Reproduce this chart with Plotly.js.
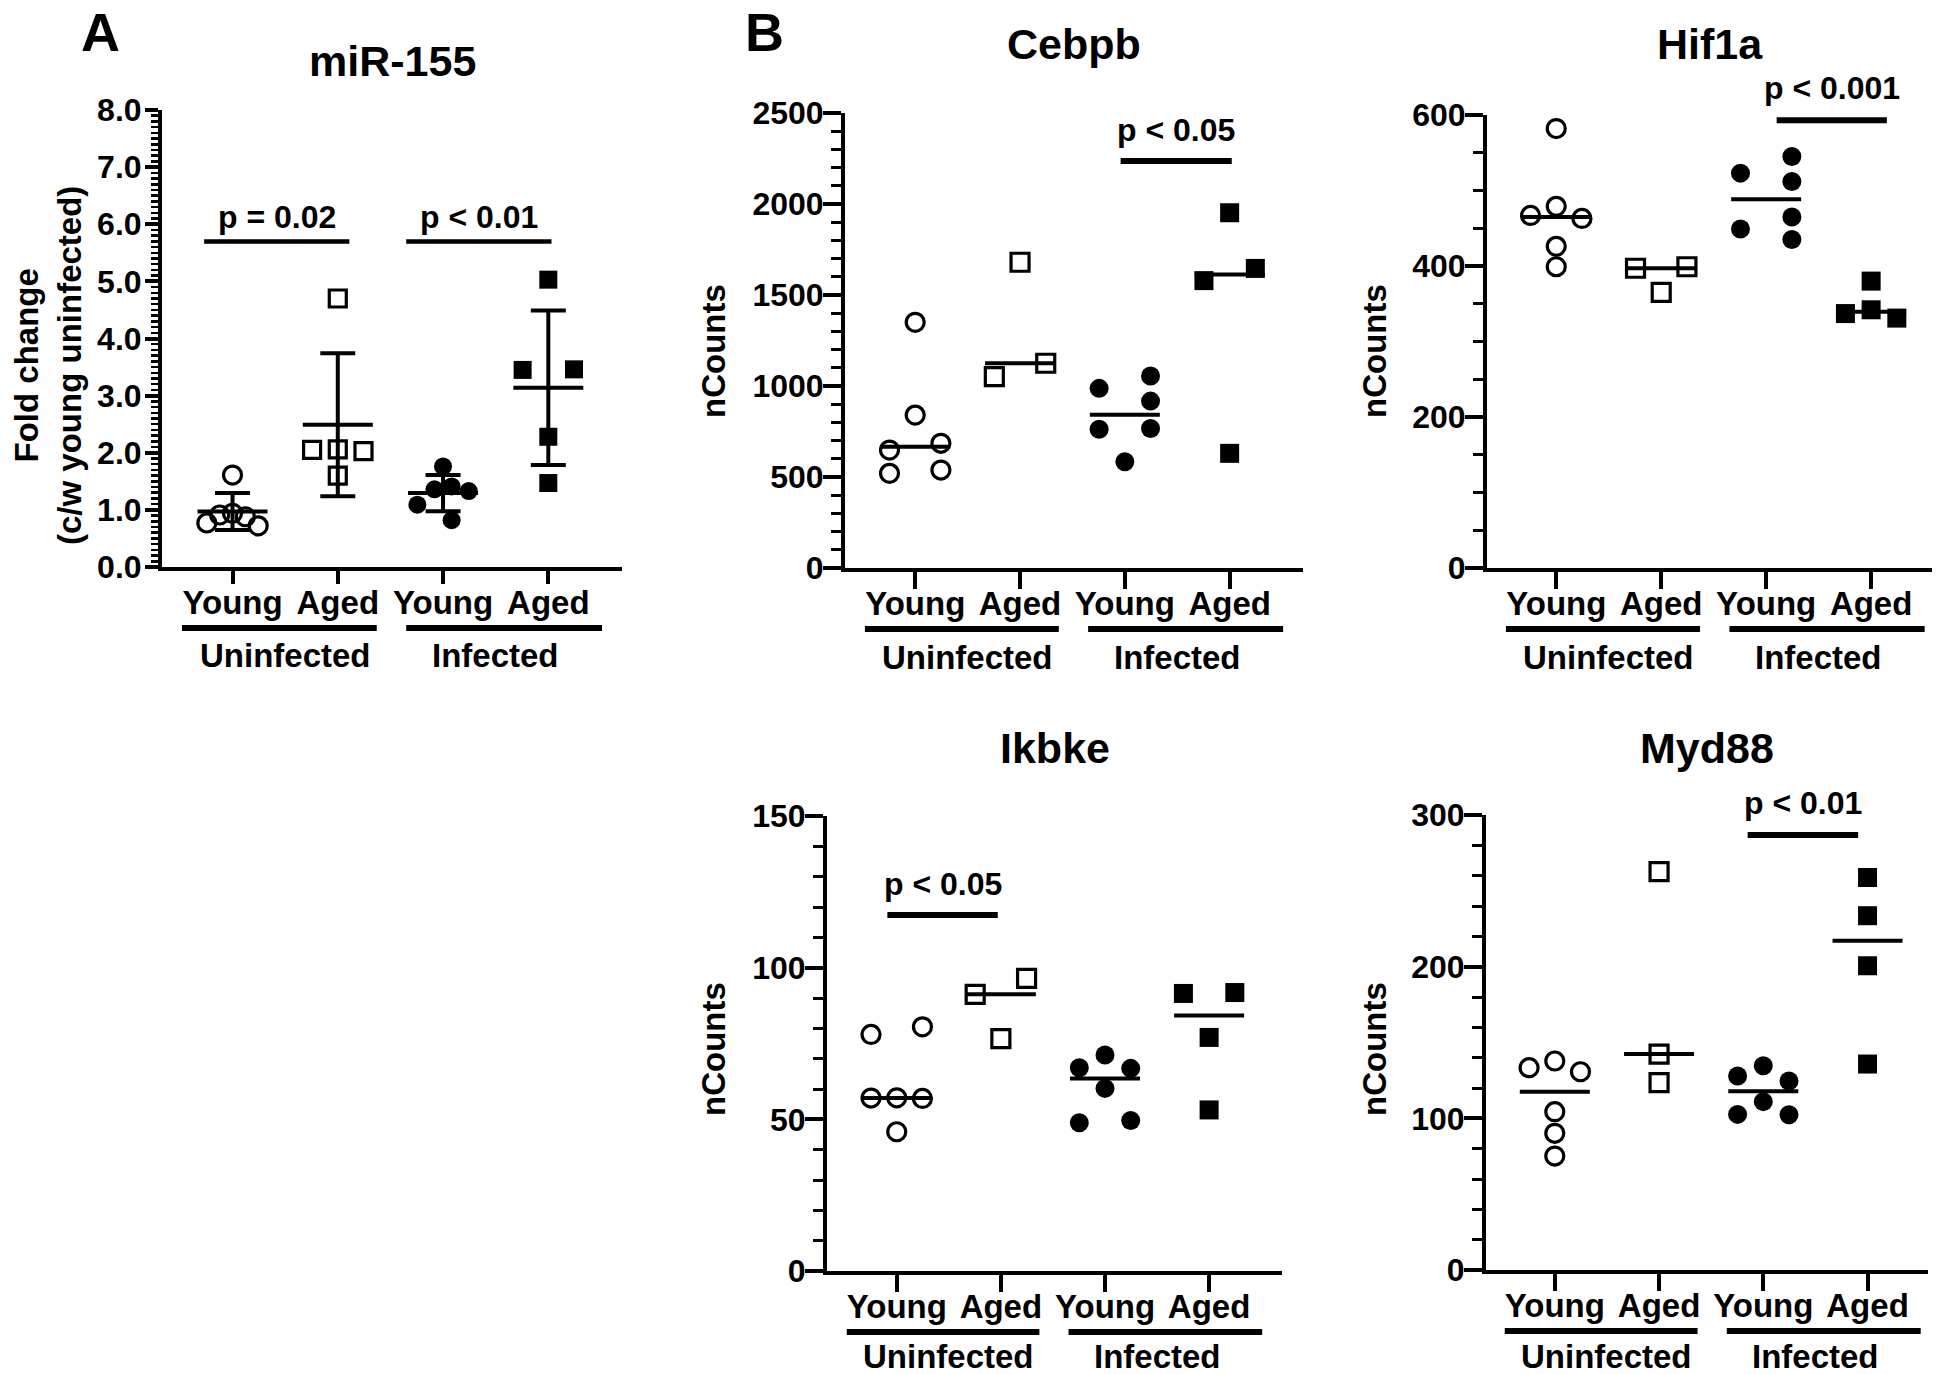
<!DOCTYPE html>
<html>
<head>
<meta charset="utf-8">
<script src="https://cdn.plot.ly/plotly-3.0.1.min.js"></script>
<style>
html, body { margin: 0; padding: 0; background: #ffffff; }
#chart { width: 1944px; height: 1374px; }
</style>
</head>
<body>
<div id="chart"></div>
<script>
// ---------------- data ----------------
const categories = ['Young', 'Aged', 'Young', 'Aged'];
const conditions = ['Uninfected', 'Infected'];
const panelTitles = ['miR-155', 'Cebpb', 'Hif1a', 'Ikbke', 'Myd88'];
const panelLetters = ['A', 'B'];
const pLabels = ['p = 0.02', 'p < 0.01', 'p < 0.05', 'p < 0.001', 'p < 0.05', 'p < 0.01'];

// miR-155 fold change (c/w young uninfected)
const mir155YoungUninf = [1.61, 0.94, 0.91, 0.88, 0.77, 0.72];
const mir155AgedUninf  = [4.70, 2.06, 2.05, 2.03, 1.60];
const mir155YoungInf   = [1.76, 1.41, 1.36, 1.33, 1.09, 0.82];
const mir155AgedInf    = [5.03, 3.46, 3.45, 2.28, 1.47];

// nCounts
const cebpbYoungUninf = [1350, 840, 685, 648, 538, 520];
const cebpbAgedUninf  = [1680, 1125, 1051];
const cebpbYoungInf   = [1055, 987, 917, 767, 762, 584];
const cebpbAgedInf    = [1952, 1646, 1579, 630];

const hif1aYoungUninf = [582, 479, 467, 463, 426, 399];
const hif1aAgedUninf  = [399, 397, 365];
const hif1aYoungInf   = [545, 523, 512, 465, 449, 435];
const hif1aAgedInf    = [380, 342, 337, 331];

const ikbkeYoungUninf = [80.5, 78.0, 57.1, 57.0, 56.9, 45.9];
const ikbkeAgedUninf  = [96.5, 91.2, 76.6];
const ikbkeYoungInf   = [71.2, 67.0, 66.8, 60.2, 49.6, 48.9];
const ikbkeAgedInf    = [91.8, 91.5, 77.0, 53.1];

const myd88YoungUninf = [137.8, 133.4, 130.7, 104.4, 90.1, 75.1];
const myd88AgedUninf  = [262.6, 142.4, 123.5];
const myd88YoungInf   = [134.7, 127.9, 124.6, 111.0, 102.6, 102.4];
const myd88AgedInf    = [258.8, 233.6, 200.6, 135.8];

// ---------------- layout / style ----------------
const W = 1944, H = 1374;
const FONT = 'Liberation Sans, Arial, Helvetica, sans-serif';
const SLOT_PX = 25.7;   // horizontal spacing of side-by-side dots
const D_PX = 19;        // collision distance for the dot layout
const CENTER_HALF_PX = 35;

const panels = [
  { title: panelTitles[0], groups: [mir155YoungUninf, mir155AgedUninf, mir155YoungInf, mir155AgedInf],
    box: {l: 162, r: 622, t: 110, b: 567}, xr: [-0.67, 3.70], yr: [0, 8], dtick: 1, minor: 0.1, fmt: '.1f',
    majorLen: 13, minorLen: 7, minorWidth: 2.5, xTickLen: 13, xStandoff: -10, yStandoff: -3, stat: 'meansd',
    yTitle: 'Fold change<br>(c/w young uninfected)', yTitleX: 48, yTitleY: 366, titleY: 61, groupLabelY: 656,
    sizes: [18, 17, 18, 18], barWidth: 4.5,
    pBars: [{from: -0.27, to: 1.11, level: 5.70, text: pLabels[0], shift: 4},
            {from: 1.65, to: 3.03, level: 5.70, text: pLabels[1], shift: 4}] },
  { title: panelTitles[1], groups: [cebpbYoungUninf, cebpbAgedUninf, cebpbYoungInf, cebpbAgedInf],
    box: {l: 845, r: 1303, t: 113, b: 568}, xr: [-0.67, 3.70], yr: [0, 2500], dtick: 500, minor: 100, fmt: 'd',
    majorLen: 18, minorLen: 10, minorWidth: 3, xTickLen: 17, xStandoff: -14, yStandoff: -7, stat: 'median',
    yTitle: 'nCounts', yTitleX: 713, yTitleY: 351, titleY: 44, groupLabelY: 657,
    sizes: [18, 18, 19, 19], barWidth: 6,
    pBars: [{from: 1.96, to: 3.02, level: 2236, text: pLabels[2], shift: 11}] },
  { title: panelTitles[2], groups: [hif1aYoungUninf, hif1aAgedUninf, hif1aYoungInf, hif1aAgedInf],
    box: {l: 1487, r: 1932, t: 115, b: 568}, xr: [-0.66, 3.58], yr: [0, 600], dtick: 200, minor: 50, fmt: 'd',
    majorLen: 18, minorLen: 10, minorWidth: 3, xTickLen: 17, xStandoff: -14, yStandoff: -7, stat: 'median',
    yTitle: 'nCounts', yTitleX: 1374, yTitleY: 351, titleY: 44, groupLabelY: 657,
    sizes: [18, 18, 19, 19], barWidth: 6,
    pBars: [{from: 2.10, to: 3.15, level: 593, text: pLabels[3], shift: 12}] },
  { title: panelTitles[3], groups: [ikbkeYoungUninf, ikbkeAgedUninf, ikbkeYoungInf, ikbkeAgedInf],
    box: {l: 827, r: 1282, t: 816, b: 1271}, xr: [-0.67, 3.70], yr: [0, 150], dtick: 50, minor: 10, fmt: 'd',
    majorLen: 18, minorLen: 10, minorWidth: 3, xTickLen: 17, xStandoff: -14, yStandoff: -7, stat: 'median',
    yTitle: 'nCounts', yTitleX: 713, yTitleY: 1049, titleY: 748, groupLabelY: 1356,
    sizes: [18, 18, 19, 19], barWidth: 6,
    pBars: [{from: -0.09, to: 0.97, level: 117.4, text: pLabels[4], shift: 11}] },
  { title: panelTitles[4], groups: [myd88YoungUninf, myd88AgedUninf, myd88YoungInf, myd88AgedInf],
    box: {l: 1486, r: 1928, t: 815, b: 1270}, xr: [-0.66, 3.58], yr: [0, 300], dtick: 100, minor: 20, fmt: 'd',
    majorLen: 18, minorLen: 10, minorWidth: 3, xTickLen: 17, xStandoff: -14, yStandoff: -7, stat: 'median',
    yTitle: 'nCounts', yTitleX: 1374, yTitleY: 1049, titleY: 748, groupLabelY: 1356,
    sizes: [18, 18, 19, 19], barWidth: 6,
    pBars: [{from: 1.85, to: 2.91, level: 286.8, text: pLabels[5], shift: 12}] }
];

const symbols = ['circle-open', 'square-open', 'circle', 'square'];
const isOpen = [true, true, false, false];
const groupSpans = [[-0.48, 1.37], [1.65, 3.51]];

// ---------------- helpers ----------------
const mean = a => a.reduce((s, v) => s + v, 0) / a.length;
const sdev = a => { const m = mean(a); return Math.sqrt(a.reduce((s, v) => s + (v - m) * (v - m), 0) / (a.length - 1)); };
const median = a => { const s = [...a].sort((x, y) => x - y); const n = s.length; return n % 2 ? s[(n - 1) / 2] : (s[n / 2 - 1] + s[n / 2]) / 2; };

// scatter-dot layout: dots that would overlap are spread sideways (in slot units)
function swarm(values, pxPerY) {
  const n = values.length;
  const order = values.map((v, i) => i).sort((a, b) => values[b] - values[a]);
  const slots = new Array(n).fill(0);
  const placed = [];
  const cand = [0, -1, 1, -2, 2, -3, 3];
  for (const i of order) {
    for (const c of cand) {
      const ok = placed.every(j => {
        const dx = (c - slots[j]) * SLOT_PX;
        const dy = (values[i] - values[j]) * pxPerY;
        return dx * dx + dy * dy >= D_PX * D_PX;
      });
      if (ok) { slots[i] = c; break; }
    }
    placed.push(i);
  }
  const clusters = [];
  let cur = [order[0]];
  for (let k = 1; k < order.length; k++) {
    const a = order[k - 1], b = order[k];
    if ((values[a] - values[b]) * pxPerY < D_PX) cur.push(b);
    else { clusters.push(cur); cur = [b]; }
  }
  clusters.push(cur);
  for (const cl of clusters) {
    const ss = cl.map(i => slots[i]);
    const lo = Math.min(...ss), hi = Math.max(...ss);
    if (hi - lo === 1) {
      cl.forEach(i => { slots[i] = slots[i] === lo ? -1 : 1; });
    } else {
      const mid = (lo + hi) / 2, half = (hi - lo) / 2;
      const s = half > 1 ? 1 / half : 1;
      cl.forEach(i => { slots[i] = (slots[i] - mid) * s; });
    }
  }
  return slots;
}

const traces = [];
const layout = {
  width: W, height: H,
  margin: {l: 0, r: 0, t: 0, b: 0},
  paper_bgcolor: '#ffffff', plot_bgcolor: '#ffffff',
  showlegend: false,
  font: {family: FONT, size: 33, color: '#000000', weight: 'bold'},
  shapes: [], annotations: []
};

const px2py = y => 1 - y / H;
const txt = (size) => ({family: FONT, size: size, color: '#000000', weight: 'bold'});

panels.forEach((p, k) => {
  const sfx = k === 0 ? '' : String(k + 1);
  const xa = 'x' + sfx, ya = 'y' + sfx;
  const pxPerCat = (p.box.r - p.box.l) / (p.xr[1] - p.xr[0]);
  const pxPerY = (p.box.b - p.box.t) / (p.yr[1] - p.yr[0]);
  const slotCat = SLOT_PX / pxPerCat;
  const halfCat = CENTER_HALF_PX / pxPerCat;

  layout['xaxis' + sfx] = {
    domain: [p.box.l / W, p.box.r / W], range: p.xr, anchor: ya,
    showline: true, linewidth: 4, linecolor: '#000',
    ticks: 'outside', ticklen: p.xTickLen, tickwidth: 4, tickcolor: '#000',
    tickmode: 'array', tickvals: [0, 1, 2, 3], ticktext: categories, tickangle: 0,
    ticklabelstandoff: p.xStandoff,
    tickfont: txt(33), showgrid: false, zeroline: false, fixedrange: true
  };
  layout['yaxis' + sfx] = {
    domain: [px2py(p.box.b), px2py(p.box.t)], range: p.yr, anchor: xa,
    showline: true, linewidth: 4, linecolor: '#000',
    ticks: 'outside', ticklen: p.majorLen, tickwidth: 4, tickcolor: '#000',
    tickmode: 'linear', tick0: 0, dtick: p.dtick, tickformat: p.fmt,
    ticklabelstandoff: p.yStandoff,
    minor: {dtick: p.minor, tick0: 0, ticks: 'outside', ticklen: p.minorLen, tickwidth: p.minorWidth, tickcolor: '#000', showgrid: false},
    tickfont: txt(32), showgrid: false, zeroline: false, fixedrange: true
  };

  // center lines (mean +/- SD for miR-155, median elsewhere)
  p.groups.forEach((vals, g) => {
    const c = p.stat === 'meansd' ? mean(vals) : median(vals);
    traces.push({
      type: 'scatter', mode: 'lines', xaxis: xa, yaxis: ya, hoverinfo: 'skip',
      x: [g - halfCat, g + halfCat], y: [c, c],
      line: {color: '#000', width: 4}
    });
    if (p.stat === 'meansd') {
      traces.push({
        type: 'scatter', mode: 'markers', xaxis: xa, yaxis: ya, hoverinfo: 'skip',
        x: [g], y: [c], marker: {size: 1, color: 'rgba(0,0,0,0)'},
        error_y: {type: 'data', array: [sdev(vals)], visible: true, color: '#000', thickness: 4, width: 17.5}
      });
    }
  });

  // dots
  p.groups.forEach((vals, g) => {
    const slots = swarm(vals, pxPerY);
    traces.push({
      type: 'scatter', mode: 'markers', xaxis: xa, yaxis: ya, cliponaxis: false,
      name: categories[g] + ' ' + conditions[g < 2 ? 0 : 1],
      x: vals.map((v, i) => g + slots[i] * slotCat), y: vals,
      marker: {symbol: symbols[g], size: p.sizes[g], color: '#000',
               line: {color: '#000', width: isOpen[g] ? 3.2 : 0}}
    });
  });

  // significance bars
  p.pBars.forEach(b => {
    layout.shapes.push({type: 'line', xref: xa, yref: ya, x0: b.from, x1: b.to, y0: b.level, y1: b.level,
      line: {color: '#000', width: p.barWidth}});
    layout.annotations.push({xref: xa, yref: ya, x: (b.from + b.to) / 2, y: b.level, text: b.text,
      showarrow: false, xanchor: 'center', yanchor: 'bottom', yshift: b.shift, font: txt(32)});
  });

  // condition group lines + labels
  const gy = p.box.b + 61;
  groupSpans.forEach((s, j) => {
    layout.shapes.push({type: 'line', xref: xa, yref: 'paper', x0: s[0], x1: s[1], y0: px2py(gy), y1: px2py(gy),
      line: {color: '#000', width: 6}});
    layout.annotations.push({xref: xa, yref: 'paper', x: 0.5 + 2 * j, y: px2py(p.groupLabelY), text: conditions[j],
      showarrow: false, xanchor: 'center', yanchor: 'middle', font: txt(33)});
  });

  // panel title
  layout.annotations.push({xref: 'paper', yref: 'paper', x: (p.box.l + p.box.r) / 2 / W, y: px2py(p.titleY),
    text: p.title, showarrow: false, xanchor: 'center', yanchor: 'middle', font: txt(43)});
  // y axis title
  layout.annotations.push({xref: 'paper', yref: 'paper', x: p.yTitleX / W, y: px2py(p.yTitleY),
    text: p.yTitle, showarrow: false, xanchor: 'center', yanchor: 'middle', textangle: -90, font: txt(33)});
});

// panel letters
layout.annotations.push({xref: 'paper', yref: 'paper', x: 100 / W, y: 1, text: panelLetters[0],
  showarrow: false, xanchor: 'center', yanchor: 'top', font: txt(54)});
layout.annotations.push({xref: 'paper', yref: 'paper', x: 764 / W, y: 1, text: panelLetters[1],
  showarrow: false, xanchor: 'center', yanchor: 'top', font: txt(54)});

Plotly.newPlot('chart', traces, layout, {displayModeBar: false, staticPlot: true});
</script>
</body>
</html>
